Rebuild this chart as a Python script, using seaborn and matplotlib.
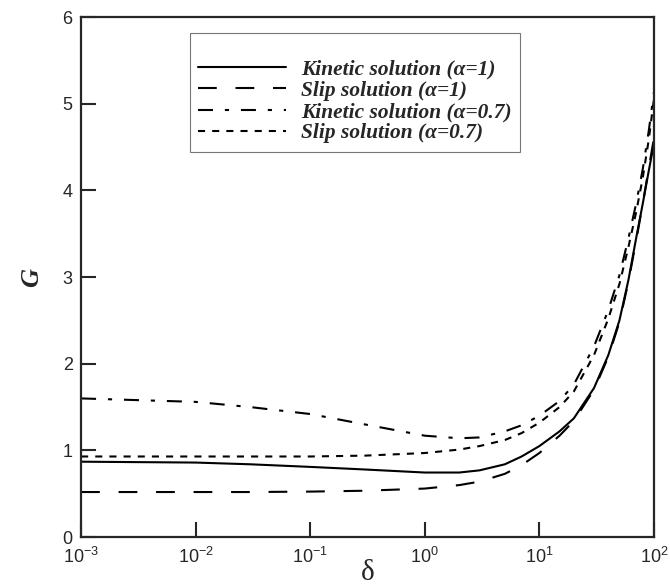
import pandas as pd
import matplotlib
matplotlib.use("Agg")
import matplotlib.pyplot as plt
import seaborn as sns

# values
delta = [1e-3, 1e-2, 3e-2, 1e-1, 0.3, 1, 2, 3, 5, 7, 10, 15, 20, 30, 40, 50,
         60, 70, 80, 90, 100]

kinetic_a1 = [0.87, 0.86, 0.84, 0.81, 0.78, 0.745, 0.745, 0.77, 0.84, 0.93,
              1.05, 1.22, 1.37, 1.72, 2.1, 2.5, 2.97, 3.45, 3.85, 4.22, 4.54]
slip_a1 = [0.52, 0.52, 0.52, 0.525, 0.535, 0.56, 0.60, 0.64, 0.73, 0.83,
           0.97, 1.17, 1.34, 1.7, 2.08, 2.48, 2.95, 3.42, 3.85, 4.25, 4.6]
kinetic_a07 = [1.60, 1.56, 1.50, 1.42, 1.30, 1.17, 1.14, 1.15, 1.22, 1.29,
               1.40, 1.57, 1.76, 2.2, 2.62, 3.02, 3.45, 3.85, 4.25, 4.68, 5.13]
slip_a07 = [0.93, 0.93, 0.93, 0.93, 0.94, 0.97, 1.01, 1.05, 1.12, 1.2,
            1.32, 1.5, 1.68, 2.1, 2.52, 2.92, 3.35, 3.75, 4.15, 4.58, 5.05]

names = ["Kinetic solution (α=1)", "Slip solution (α=1)",
         "Kinetic solution (α=0.7)", "Slip solution (α=0.7)"]
series = [kinetic_a1, slip_a1, kinetic_a07, slip_a07]

xticks = [1e-3, 1e-2, 1e-1, 1, 10, 100]
yticks = [0, 1, 2, 3, 4, 5, 6]


def main():
    sns.set_style("ticks")
    plt.rcParams["font.family"] = ["Liberation Sans", "DejaVu Sans"]
    plt.rcParams["mathtext.fontset"] = "custom"
    plt.rcParams["mathtext.rm"] = "Liberation Sans"
    plt.rcParams["mathtext.it"] = "Liberation Sans:italic"

    rows = []
    for name, vals in zip(names, series):
        for d, g in zip(delta, vals):
            rows.append({"delta": d, "G": g, "series": name})
    df = pd.DataFrame(rows)

    fig = plt.figure(figsize=(6.7, 5.87), dpi=100)
    ax = fig.add_axes([0.121, 0.085, 0.855, 0.886])

    dash_map = {names[0]: "",
                names[1]: (9, 9),
                names[2]: (7.2, 5.7, 2, 5.7),
                names[3]: (3.4, 3.4)}
    sns.lineplot(data=df, x="delta", y="G", style="series", style_order=names,
                 dashes=dash_map, color="black", linewidth=1.5, legend=False,
                 ax=ax)

    ax.set_xscale("log")
    ax.set_xlim(1e-3, 100)
    ax.set_ylim(0, 6)
    ax.set_xticks(xticks)
    ax.set_yticks(yticks)
    ax.minorticks_off()
    ax.tick_params(direction="in", length=11, width=1.5, labelsize=13,
                   top=False, right=False)
    ax.tick_params(axis="x", pad=7)
    ax.tick_params(axis="y", pad=6)

    for sp in ax.spines.values():
        sp.set_linewidth(1.6)
        sp.set_visible(True)

    ax.set_xlabel("δ", fontsize=21, family="Liberation Serif", labelpad=-5)
    ax.set_ylabel("G", fontsize=19, family="Liberation Serif",
                  fontweight="bold", fontstyle="italic", labelpad=14)

    leg = ax.legend(ax.lines, names, loc="upper left",
                    bbox_to_anchor=(0.19, 0.97), frameon=True, fancybox=False,
                    handlelength=4.1, handletextpad=0.7, borderpad=0.4,
                    borderaxespad=0, labelspacing=0.06, edgecolor="#555555",
                    title=" ", title_fontsize=14,
                    prop={"family": "Liberation Serif", "weight": "bold",
                          "style": "italic", "size": 15.4})
    leg.get_frame().set_linewidth(0.8)

    fig.savefig("out.png", dpi=100)


if __name__ == "__main__":
    main()
